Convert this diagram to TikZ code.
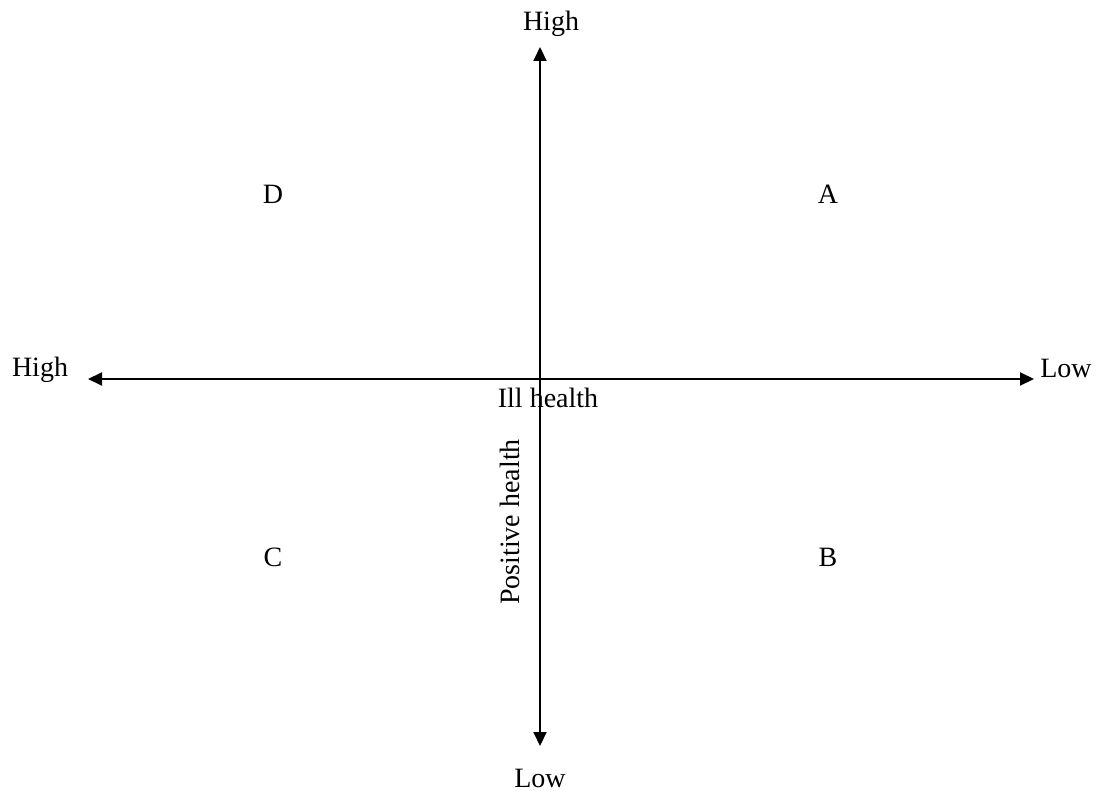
\documentclass[tikz,border=0pt]{standalone}
\usepackage{fontspec}
\setmainfont{Liberation Serif}
\usetikzlibrary{arrows.meta}
\begin{document}
\begin{tikzpicture}[x=0.5pt, y=-0.5pt, >={Triangle[length=7pt, width=6.5pt]}, font=\fontsize{14}{17}\selectfont]

\tikzstyle{axis} = [<->, line width=1pt]
\tikzstyle{lbl} = [anchor=base, inner sep=0pt]

\useasboundingbox (0, 0) rectangle (1096, 791);

% --- axis end points
\coordinate (x_left) at (88, 379);
\coordinate (x_right) at (1034, 379);
\coordinate (y_top) at (540, 47);
\coordinate (y_bottom) at (540, 746);

\draw[axis] (x_left) -- (x_right);
\draw[axis] (y_top) -- (y_bottom);

% --- axis labels
\node[lbl] (high_top) at (551, 31) {High};
\node[lbl] (low_bottom) at (540, 787) {Low};
\node[lbl] (high_left) at (40, 376) {High};
\node[lbl] (low_right) at (1066, 377) {Low};
\node[lbl] (ill) at (548, 407) {Ill health};
\node[lbl, rotate=90] (positive) at (519, 522) {Positive health};

% --- quadrants
\node[lbl] (qa) at (828, 204) {A};
\node[lbl] (qb) at (828, 566) {B};
\node[lbl] (qc) at (273, 566) {C};
\node[lbl] (qd) at (273, 204) {D};

\end{tikzpicture}
\end{document}
